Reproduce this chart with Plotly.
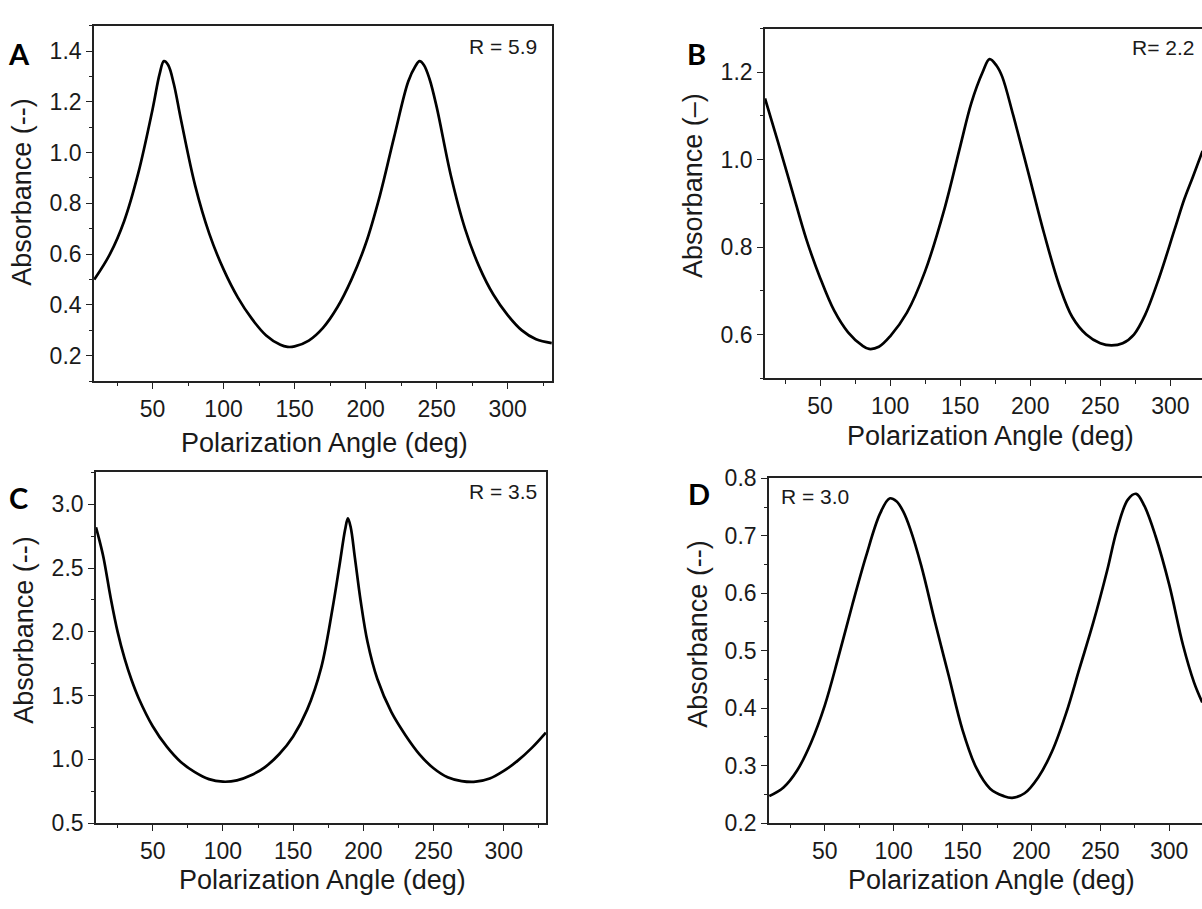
import plotly.graph_objects as go

W, H = 1202, 909

# ---------------- data ----------------
a_angle = [9, 20, 30, 40, 50, 55, 58, 61, 65, 70, 80, 90, 100, 110, 120, 130, 140, 145, 150, 160, 170, 180, 190, 200,
           210, 220, 230, 235, 238, 241, 245, 250, 260, 270, 280, 290, 300, 310, 320, 331]
a_abs = [0.50, 0.60, 0.73, 0.92, 1.17, 1.31, 1.36, 1.345, 1.27, 1.13, 0.87, 0.68, 0.54, 0.43, 0.345, 0.28, 0.243,
         0.235, 0.237, 0.26, 0.31, 0.39, 0.50, 0.64, 0.83, 1.06, 1.28, 1.34, 1.36, 1.345, 1.29, 1.18, 0.91, 0.70,
         0.55, 0.44, 0.36, 0.30, 0.265, 0.25]

b_angle = [10.7, 20, 30, 40, 50, 60, 70, 80, 85, 92, 100, 112, 125, 139, 150, 158, 166, 171, 176, 180, 188, 199, 210,
           221, 230, 240, 250, 258, 266, 274, 282, 292, 303, 310, 316, 323]
b_abs = [1.14, 1.04, 0.93, 0.82, 0.73, 0.655, 0.605, 0.575, 0.567, 0.572, 0.596, 0.65, 0.745, 0.89, 1.03, 1.13, 1.20,
         1.23, 1.215, 1.19, 1.10, 0.966, 0.83, 0.71, 0.64, 0.60, 0.58, 0.575, 0.58, 0.60, 0.645, 0.73, 0.84, 0.91,
         0.96, 1.02]

c_angle = [9.6, 12, 15, 20, 25, 30, 35, 40, 50, 60, 70, 80, 90, 100, 110, 120, 130, 140, 150, 160, 170, 178, 183, 187,
           189, 191, 194, 198, 203, 210, 220, 230, 240, 250, 260, 270, 280, 290, 300, 310, 320, 330]
c_abs = [2.82, 2.72, 2.58, 2.27, 2.0, 1.79, 1.62, 1.48, 1.26, 1.10, 0.98, 0.90, 0.845, 0.825, 0.835, 0.875, 0.94, 1.04,
         1.18, 1.39, 1.72, 2.18, 2.52, 2.80, 2.89, 2.82, 2.58, 2.25, 1.92, 1.63, 1.37, 1.19, 1.04, 0.93, 0.86, 0.83,
         0.825, 0.85, 0.91, 0.99, 1.09, 1.21]

d_angle = [9.7, 20, 30, 40, 50, 60, 70, 80, 90, 97, 102, 107, 112, 120, 130, 140, 150, 160, 170, 180, 186, 195, 205,
           215, 225, 235, 245, 255, 262, 270, 276, 282, 290, 300, 310, 318, 324]
d_abs = [0.247, 0.262, 0.292, 0.34, 0.405, 0.49, 0.58, 0.665, 0.738, 0.765, 0.760, 0.742, 0.712, 0.648, 0.55, 0.456,
         0.362, 0.296, 0.26, 0.247, 0.244, 0.252, 0.28, 0.325, 0.39, 0.47, 0.55, 0.64, 0.71, 0.763, 0.773, 0.752,
         0.70, 0.615, 0.51, 0.445, 0.41]

panel_letters = ["A", "B", "C", "D"]
r_labels = ["R = 5.9", "R= 2.2", "R = 3.5", "R = 3.0"]
x_title = "Polarization Angle (deg)"
y_titles = ["Absorbance (--)", "Absorbance (–)", "Absorbance (--)", "Absorbance (--)"]

# ---------------- layout helpers ----------------
def fx(p):
    return p / W


def fy(p):
    return 1 - p / H


# panel boxes in pixels: left, right, top, bottom
boxes = {
    "A": (94, 552, 13, 379),
    "B": (765, 1202, 16, 376),
    "C": (96, 546, 473, 834),
    "D": (769, 1202, 479, 834),
}
xranges = {"A": [8.8, 331.2], "B": [10.7, 322.6], "C": [9.6, 330.1], "D": [9.5, 323.8]}
yranges = {"A": [0.1, 1.5], "B": [0.5, 1.3], "C": [0.5, 3.25], "D": [0.2, 0.8]}
ydticks = {"A": 0.2, "B": 0.2, "C": 0.5, "D": 0.1}

FONT = "Liberation Sans, Arial, sans-serif"
TICKFONT = dict(family=FONT, size=23, color="#1a1a1a")
LINEC = "#222222"

fig = go.Figure()
series = {"A": (a_angle, a_abs), "B": (b_angle, b_abs), "C": (c_angle, c_abs), "D": (d_angle, d_abs)}

layout = dict(
    width=W, height=H, margin=dict(l=0, r=0, t=0, b=0),
    paper_bgcolor="white", plot_bgcolor="white", showlegend=False,
)

for i, key in enumerate(["A", "B", "C", "D"]):
    n = "" if i == 0 else str(i + 1)
    xs, ys = series[key]
    fig.add_trace(go.Scatter(
        x=xs, y=ys, mode="lines", xaxis="x" + n, yaxis="y" + n,
        line=dict(color="black", width=2.7, shape="spline", smoothing=1.0),
        hoverinfo="skip",
    ))
    l, r, t, b = boxes[key]
    right_open = key in ("B", "D")
    layout["xaxis" + n] = dict(
        domain=[fx(l), fx(r)], range=xranges[key], anchor="y" + n,
        showgrid=False, zeroline=False, showline=True, linecolor=LINEC, linewidth=1.6, mirror=True,
        ticks="outside", ticklen=6, tickwidth=1.4, tickcolor=LINEC, tick0=0, dtick=50,
        minor=dict(ticks="outside", ticklen=3.5, tickwidth=1.2, tickcolor=LINEC, dtick=25, tick0=0),
        tickfont=TICKFONT,
    )
    layout["yaxis" + n] = dict(
        domain=[fy(b), fy(t)], range=yranges[key], anchor="x" + n,
        showgrid=False, zeroline=False, showline=True, linecolor=LINEC, linewidth=1.6,
        mirror=(not right_open),
        ticks="outside", ticklen=6, tickwidth=1.4, tickcolor=LINEC,
        tick0=0, dtick=ydticks[key], tickformat=".1f",
        minor=dict(ticks="outside", ticklen=3.5, tickwidth=1.2, tickcolor=LINEC, dtick=ydticks[key] / 2, tick0=0),
        tickfont=TICKFONT,
    )

fig.update_layout(**layout)

# ---------------- annotations ----------------
ann = []
letter_pos = {"A": (19, 42), "B": (696, 42), "C": (18, 499), "D": (699, 495)}
for key in panel_letters:
    x, y = letter_pos[key]
    ann.append(dict(text="<b>%s</b>" % key, x=fx(x), y=fy(y), xref="paper", yref="paper",
                    xanchor="center", yanchor="middle", showarrow=False,
                    font=dict(family="Lato, Open Sans, sans-serif", size=29, color="black")))

r_pos = [(539, 34, "right"), (1196, 36, "right"), (539, 493, "right"), (779, 498, "left")]
for txt, (x, y, anc) in zip(r_labels, r_pos):
    ann.append(dict(text=txt, x=fx(x), y=fy(y), xref="paper", yref="paper", xanchor=anc, yanchor="middle",
                    showarrow=False, font=dict(family=FONT, size=21, color="#1a1a1a")))

xt_pos = [(324, 443), (990, 435), (322, 893), (991, 893)]
for (x, y) in xt_pos:
    ann.append(dict(text=x_title, x=fx(x), y=fy(y), xref="paper", yref="paper", xanchor="center",
                    yanchor="middle", showarrow=False, font=dict(family=FONT, size=27, color="#1a1a1a")))

yt_pos = [(22, 184), (693, 178), (24, 635), (698, 639)]
for txt, (x, y) in zip(y_titles, yt_pos):
    ann.append(dict(text=txt, x=fx(x), y=fy(y), xref="paper", yref="paper", xanchor="center",
                    yanchor="middle", textangle=-90, showarrow=False,
                    font=dict(family=FONT, size=27, color="#1a1a1a")))

fig.update_layout(annotations=ann)
fig.write_html("out.html")
